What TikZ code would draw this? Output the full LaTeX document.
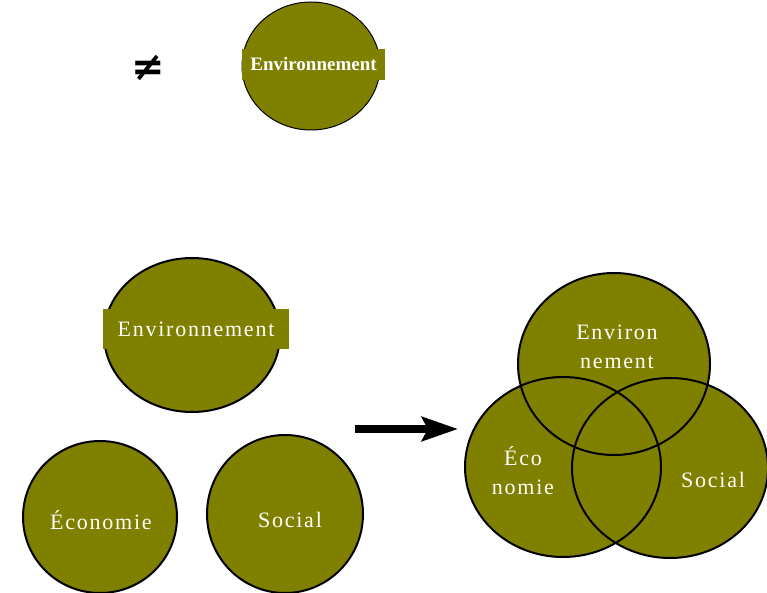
\documentclass[tikz,border=0pt]{standalone}
\usepackage{fontspec}
\setmainfont{Liberation Serif}
\newfontfamily\spaced[LetterSpace=8]{Liberation Serif}
\newfontfamily\symfont{DejaVu Sans}
\usepackage{tikz}
\usetikzlibrary{shapes.geometric}
\usetikzlibrary{arrows.meta,positioning}
\definecolor{pilliers}{RGB}{128,128,0}

\begin{document}
\begin{tikzpicture}
[x=1pt,y=-1pt,>={Stealth[length=36pt,width=24pt,inset=6pt]},
 blob/.style={ellipse,fill=pilliers,draw=black,line width=2pt,inner sep=0pt},
 blobfill/.style={ellipse,fill=pilliers,inner sep=0pt},
 ring/.style={ellipse,draw=black,line width=2pt,inner sep=0pt},
 tag/.style={fill=pilliers,text=white,inner sep=0pt},
 word/.style={text=white,font=\spaced\fontsize{22}{29}\selectfont,align=center}]
  \useasboundingbox (0,0) rectangle (767,593);
%
  \node[font=\symfont\bfseries\fontsize{40}{40}\selectfont] (neq) at (148,68) {≠};
  \node[blob,line width=1pt,minimum width=138pt,minimum height=128pt] (env) at (311,66) {};
  \node[tag,minimum width=143pt,minimum height=31pt,font=\bfseries\fontsize{19}{20}\selectfont] (envtag) at (313.5,64.5) {Environnement};
%
  \node[blob,minimum width=176pt,minimum height=154pt] (env2) at (192,335) {};
  \node[tag,minimum width=186pt,minimum height=40pt,font=\spaced\fontsize{22}{24}\selectfont] (env2tag) at (196,329) {Environnement};
  \node[blob,minimum width=154pt,minimum height=152pt] (eco) at (100,517) {};
  \node[word] (ecotext) at (101,520) {Économie};
  \node[blob,minimum width=156pt,minimum height=158pt] (soc) at (285,514) {};
  \node[word] (soctext) at (290,520) {Social};
%
  \coordinate (from) at (355,429);
  \coordinate (to) at (458,429);
  \draw[->,line width=8pt] (from) -- (to);
%
  \node[blobfill,minimum width=192pt,minimum height=182pt] (venv) at (614,364) {};
  \node[blobfill,minimum width=196pt,minimum height=180pt] (veco) at (563,467) {};
  \node[blobfill,minimum width=196pt,minimum height=180pt] (vsoc) at (670,468) {};
  \node[ring,minimum width=192pt,minimum height=182pt] (venvring) at (venv.center) {};
  \node[ring,minimum width=196pt,minimum height=180pt] (vecoring) at (veco.center) {};
  \node[ring,minimum width=196pt,minimum height=180pt] (vsocring) at (vsoc.center) {};
  \node[word] (venvtext) at (617,347) {Environ\\nement};
  \node[word] (vecotext) at (523,471) {Éco\\nomie};
  \node[word] (vsoctext) at (713,480) {Social};
\end{tikzpicture}
\end{document}
